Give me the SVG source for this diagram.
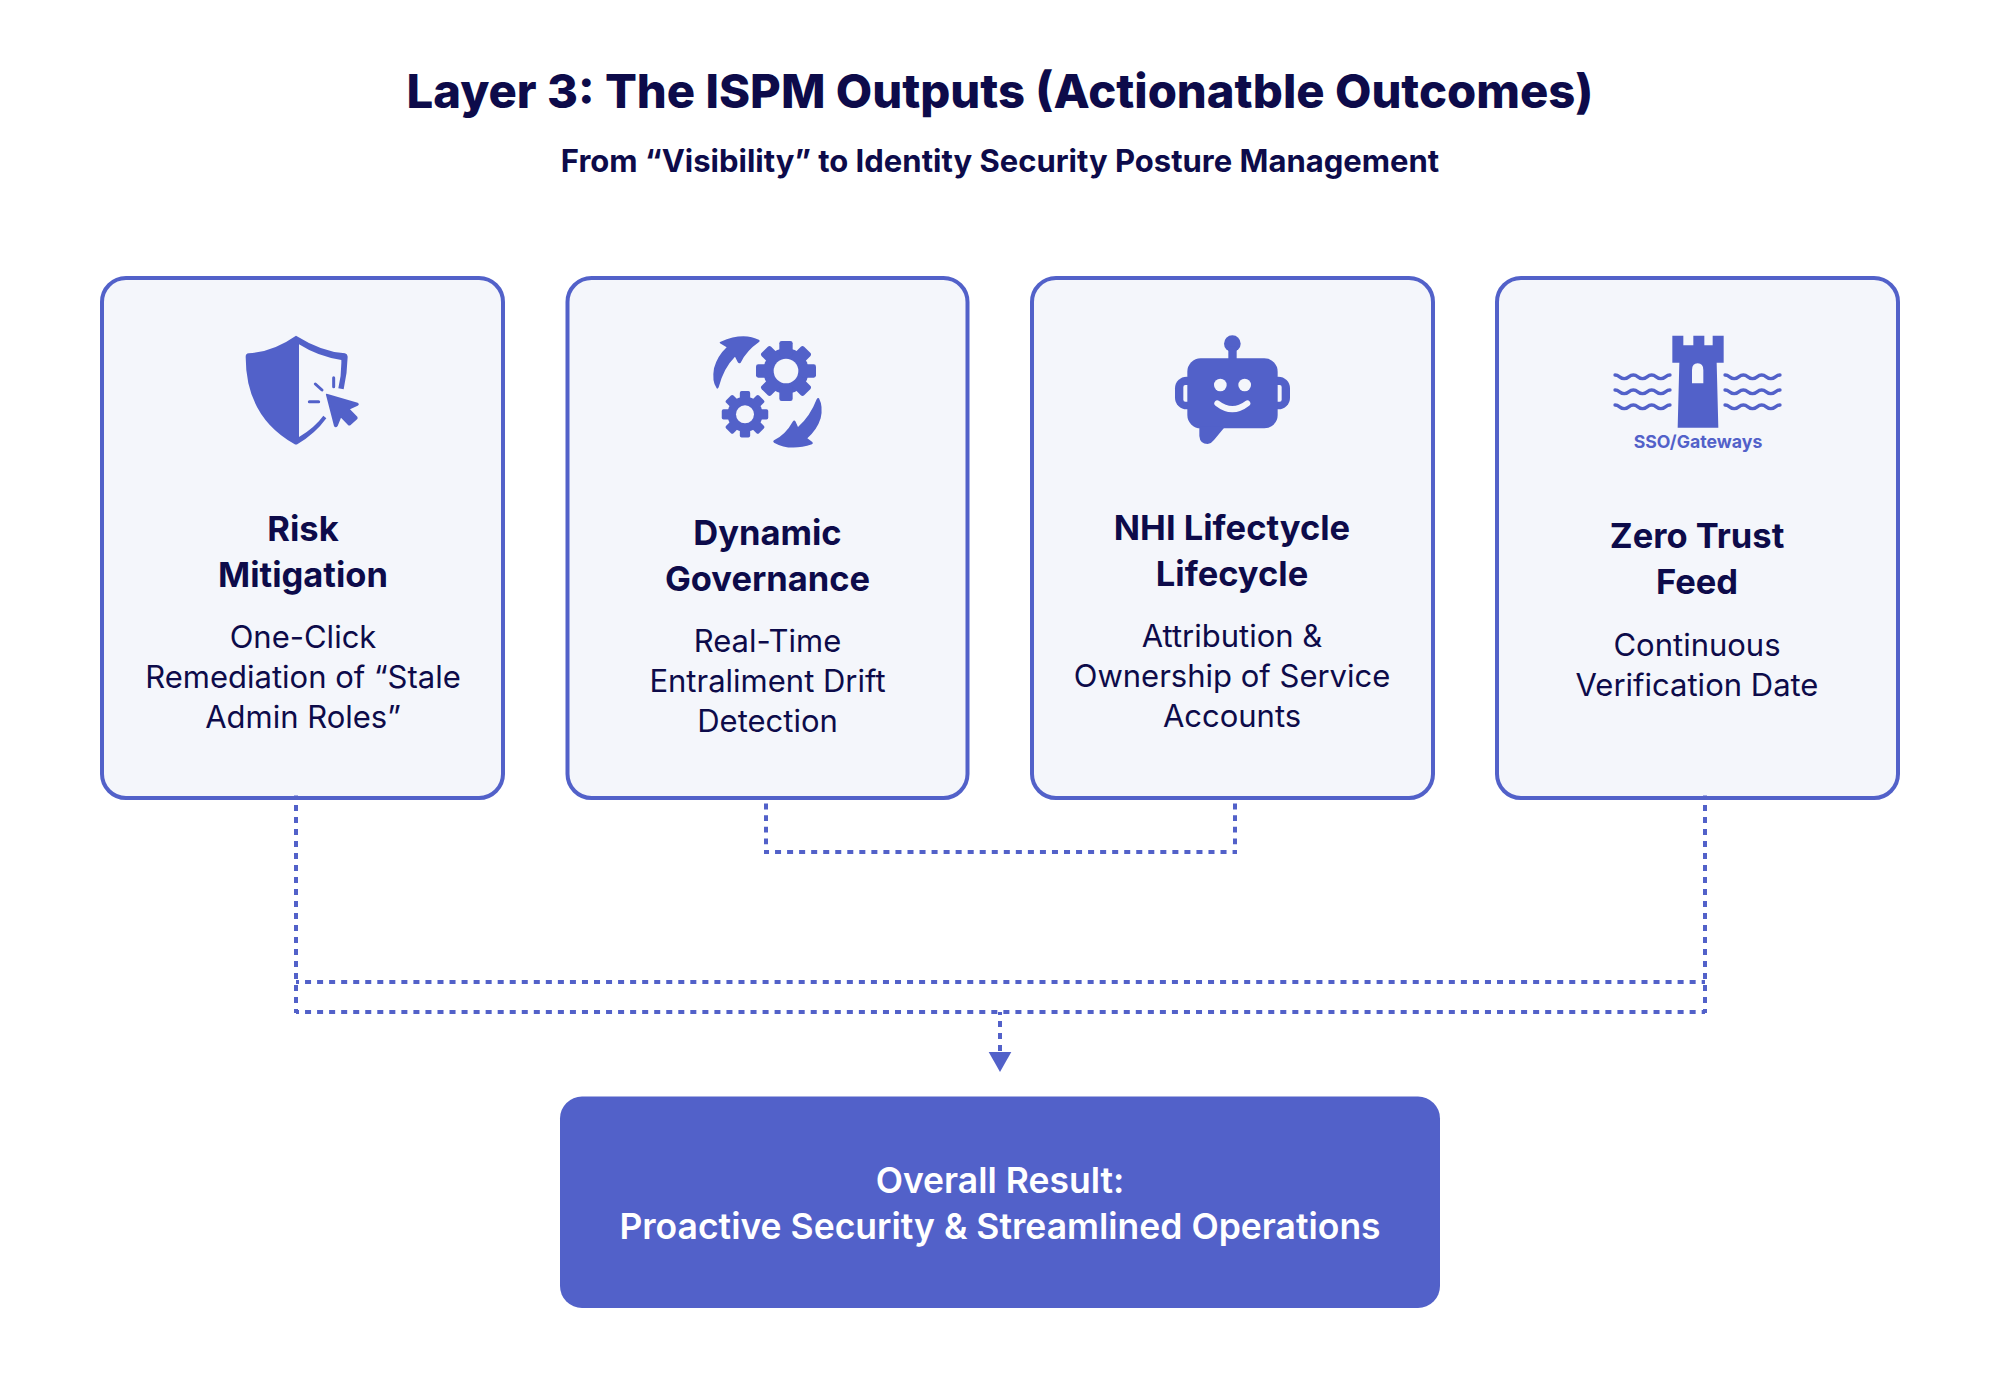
<svg xmlns="http://www.w3.org/2000/svg" width="2000" height="1400" viewBox="0 0 2000 1400">
<style>
text{font-family:"Inter","Noto Sans",sans-serif;text-anchor:middle}
.title{font-size:47.200px;font-weight:800;fill:#0D0B4A}
.sub{font-size:31px;font-weight:700;fill:#0D0B4A}
.head{font-size:34.500px;font-weight:700;fill:#0D0B4A}
.body{font-size:31px;font-weight:400;fill:#0D0B4A}
.res{font-size:35.500px;font-weight:600;fill:#fff}
.card{fill:#F4F6FB;stroke:#5261C9;stroke-width:4}
.ic{fill:#5261C9}
.bg{fill:#F4F6FB}
.dash{fill:none;stroke:#5261C9;stroke-width:4;stroke-dasharray:6 6}
.dashs{fill:none;stroke:#5261C9;stroke-width:4;stroke-dasharray:5.8 5.8;stroke-dashoffset:4}
.dashh{fill:none;stroke:#5261C9;stroke-width:4;stroke-dasharray:6.02 6.02;stroke-dashoffset:3}
.wave{fill:none;stroke:#5261C9;stroke-width:10;stroke-linecap:round}
</style>
<defs>
<g id="gear"><circle r="68"/><g id="tooth2"><rect x="-20" y="-90" width="40" height="180" rx="7"/><rect x="-90" y="-20" width="180" height="40" rx="7"/></g><use href="#tooth2" transform="rotate(45)"/></g>
<path id="wv" d="M0 -5C13.750 -5 13.750 6 27.500 6S41.250 -5 55 -5S68.750 6 82.500 6S96.250 -5 110 -5S123.750 6 137.500 6S151.250 -5 165 -5"/>
<g id="waves"><use href="#wv" y="0"/><use href="#wv" y="45"/><use href="#wv" y="90"/></g>
</defs>
<text class="title" x="1000" y="108">Layer 3: The ISPM Outputs (Actionatble Outcomes)</text>
<text class="sub" x="1000" y="172">From “Visibility” to Identity Security Posture Management</text>
<g id="card-risk">
<rect class="card" x="102" y="278" width="401" height="520" rx="24"/>
<g transform="translate(200 310) scale(.33333)">
<path class="ic" d="M288 77Q365 125 435 130Q443 132 443 140Q442 190 431 238L415 235Q425 195 424 150Q355 140 297 103L297 381Q345 352 370 317L379 325Q345 372 293 402Q288 405 283 402Q137 320 137 140Q137 131 146 130Q220 125 288 77Z"/>
<path class="ic" d="M378 255Q376 250 383 252L473 278Q480 282 473 287L450 298L472 320Q474 324 472 327L452 345Q448 348 444 345L423 323L413 348Q407 355 402 348Z"/>
<path d="M346 222L366 240M401 203V230M328 275H356" stroke="#5261C9" stroke-width="9" stroke-linecap="round" fill="none"/>
</g>
<text class="head" x="303" y="541">Risk</text><text class="head" x="303" y="587">Mitigation</text>
<text class="body" x="303" y="648">One-Click</text><text class="body" x="303" y="688">Remediation of “Stale</text><text class="body" x="303" y="728">Admin Roles”</text>
</g>
<g id="card-governance">
<rect class="card" x="567.500" y="278" width="400" height="520" rx="24"/>
<g transform="translate(680 310) scale(.33333)">
<path class="ic" d="M110 235Q95 215 102 175Q112 138 140 112L120 100Q117 96 122 95Q190 65 238 90Q241 94 236 97Q200 122 182 158Q177 163 173 156L165 140Q130 175 116 232Q113 238 110 235Z"/>
<path class="ic" d="M417 265Q430 290 422 325Q412 358 382 385L397 396Q401 400 396 403Q330 425 282 398Q277 394 282 391Q318 372 338 335Q343 328 347 335L354 351Q390 320 410 268Q413 262 417 265Z"/>
<use class="ic" href="#gear" transform="translate(318 183)"/><circle class="bg" cx="318" cy="183" r="37"/>
<use class="ic" href="#gear" transform="translate(195 313) scale(.775)"/><circle class="bg" cx="195" cy="313" r="27"/>
</g>
<text class="head" x="767.500" y="545">Dynamic</text><text class="head" x="767.500" y="591">Governance</text>
<text class="body" x="767.500" y="652">Real-Time</text><text class="body" x="767.500" y="692">Entraliment Drift</text><text class="body" x="767.500" y="732">Detection</text>
</g>
<g id="card-nhi">
<rect class="card" x="1032" y="278" width="401" height="520" rx="24"/>
<g transform="translate(1140 310) scale(.33333)">
<circle class="ic" cx="277" cy="101" r="25"/><rect class="ic" x="265" y="110" width="25" height="40"/>
<rect class="ic" x="105" y="200" width="70" height="98" rx="35"/><rect class="ic" x="380" y="200" width="70" height="98" rx="35"/>
<rect class="bg" x="130" y="225" width="20" height="50" rx="6"/><rect class="bg" x="405" y="225" width="20" height="50" rx="6"/>
<rect class="ic" x="142" y="145" width="271" height="210" rx="40"/>
<path class="ic" d="M178 350V378Q180 402 203 402Q215 400 222 390L255 350Z"/>
<circle class="bg" cx="241" cy="225" r="19"/><circle class="bg" cx="314" cy="225" r="19"/>
<path d="M232 280Q277 315 322 280" stroke="#F4F6FB" stroke-width="18" stroke-linecap="round" fill="none"/>
</g>
<text class="head" x="1232" y="540">NHI Lifectycle</text><text class="head" x="1232" y="586">Lifecycle</text>
<text class="body" x="1232" y="647">Attribution &amp;</text><text class="body" x="1232" y="687">Ownership of Service</text><text class="body" x="1232" y="727">Accounts</text>
</g>
<g id="card-zerotrust">
<rect class="card" x="1497" y="278" width="401" height="520" rx="24"/>
<g transform="translate(1590 310) scale(.33333)">
<path class="ic" d="M247 77H280V106H310V77H343V106H368V77H401V158H380L385 353H263L268 158H247Z"/>
<path class="bg" d="M306 220V180Q306 160 323 160Q340 160 340 180V220Z"/>
<use class="wave" href="#waves" transform="translate(75 200)"/><use class="wave" href="#waves" transform="translate(405 200)"/>
</g>
<text x="1698" y="448" style="font-size:17.700px;font-weight:700;fill:#5261C9">SSO/Gateways</text>
<text class="head" x="1697" y="548">Zero Trust</text><text class="head" x="1697" y="594">Feed</text>
<text class="body" x="1697" y="656">Continuous</text><text class="body" x="1697" y="696">Verification Date</text>
</g>
<g id="result">
<rect x="560" y="1096.500" width="880" height="211.500" rx="22" fill="#5261C9"/>
<text class="res" x="1000" y="1192.500" >Overall Result:</text><text class="res" x="1000" y="1238.500">Proactive Security &amp; Streamlined Operations</text>
</g>
<g id="connectors">
<path class="dash" stroke-dashoffset="2.500" d="M296 795.500V1013"/>
<path class="dash" stroke-dashoffset="2.500" d="M1705 795.500V1013"/>
<path class="dashh" d="M296 982H1705"/>
<path class="dashh" d="M296 1012H1705"/>
<path class="dashs" d="M766 796V854"/>
<path class="dashs" d="M1235 796V854"/>
<path class="dashh" d="M766 852H1235"/>
<path class="dash" stroke-dashoffset="3" d="M1000 1012V1051"/>
<path class="ic" d="M988.700 1052H1011.300L1000 1072Z"/>
</g>
</svg>
